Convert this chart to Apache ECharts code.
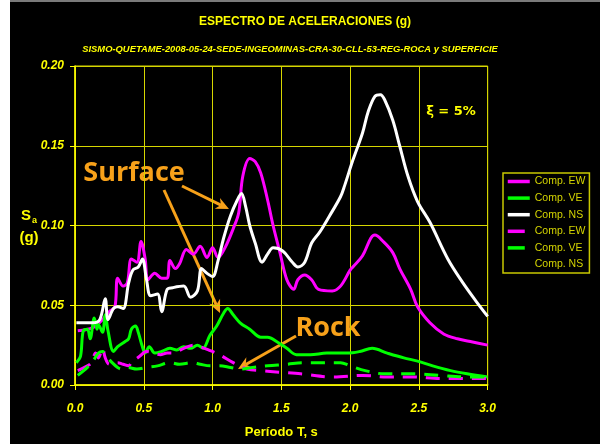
<!DOCTYPE html>
<html><head><meta charset="utf-8">
<script src="https://cdn.jsdelivr.net/npm/echarts@6/dist/echarts.min.js"></script>
<style>html,body{margin:0;padding:0;background:#fff}#c{width:600px;height:444px}</style>
</head><body><div id="c"></div>
<script>
// ---- data (period T in s, spectral acceleration Sa in g) ----
const seriesNames = ['Comp. EW', 'Comp. VE', 'Comp. NS', 'Comp. EW ', 'Comp. VE ', 'Comp. NS '];
const xTickLabels = ['0.0','0.5','1.0','1.5','2.0','2.5','3.0'];
const yTickLabels = ['0.00','0.05','0.10','0.15','0.20'];

// Surface EW
const ewSurfT = [0.02,0.13,0.20,0.25,0.29,0.31,0.35,0.38,0.41,0.45,0.48,0.51,0.53,0.58,0.63,0.67,0.69,0.73,0.76,0.81,0.86,0.91,0.96,1.00,1.04,1.09,1.15,1.19,1.22,1.27,1.31,1.35,1.40,1.44,1.49,1.54,1.59,1.62,1.67,1.72,1.77,1.87,1.93,2.00,2.02,2.09,2.15,2.18,2.24,2.31,2.36,2.44,2.49,2.58,2.68,2.78,2.89,3.00];
const ewSurfV = [0.034,0.036,0.041,0.046,0.049,0.067,0.062,0.064,0.079,0.077,0.090,0.079,0.066,0.070,0.067,0.067,0.078,0.073,0.076,0.085,0.082,0.087,0.080,0.086,0.080,0.086,0.098,0.108,0.131,0.142,0.140,0.133,0.116,0.100,0.083,0.066,0.060,0.066,0.069,0.066,0.060,0.059,0.062,0.072,0.074,0.081,0.092,0.094,0.090,0.083,0.073,0.060,0.049,0.039,0.032,0.029,0.027,0.025];

// Surface VE
const veSurfT = [0.01,0.04,0.06,0.09,0.11,0.14,0.16,0.17,0.20,0.22,0.24,0.28,0.31,0.36,0.39,0.41,0.44,0.46,0.49,0.51,0.54,0.58,0.63,0.69,0.74,0.79,0.84,0.89,0.93,0.98,1.03,1.08,1.11,1.15,1.20,1.27,1.35,1.40,1.47,1.54,1.61,1.71,1.83,1.93,1.98,2.07,2.16,2.27,2.39,2.49,2.60,2.73,2.85,3.00];
const veSurfV = [0.014,0.018,0.034,0.035,0.029,0.042,0.035,0.038,0.033,0.044,0.034,0.021,0.024,0.027,0.029,0.035,0.037,0.033,0.024,0.020,0.024,0.020,0.021,0.023,0.022,0.024,0.023,0.025,0.023,0.031,0.037,0.045,0.048,0.044,0.039,0.035,0.030,0.030,0.027,0.023,0.019,0.019,0.020,0.020,0.020,0.021,0.023,0.020,0.017,0.015,0.012,0.009,0.007,0.005];

// Surface NS
const nsSurfT = [0.01,0.13,0.18,0.22,0.24,0.28,0.31,0.35,0.39,0.42,0.46,0.49,0.52,0.55,0.60,0.63,0.67,0.71,0.79,0.84,0.89,0.92,0.96,1.00,1.04,1.08,1.13,1.18,1.21,1.24,1.27,1.31,1.36,1.40,1.44,1.51,1.58,1.62,1.67,1.72,1.78,1.85,1.93,1.96,2.02,2.09,2.13,2.18,2.22,2.25,2.31,2.36,2.42,2.49,2.58,2.71,2.82,2.92,3.00];
const nsSurfV = [0.039,0.039,0.041,0.054,0.041,0.048,0.049,0.048,0.064,0.072,0.074,0.079,0.066,0.056,0.057,0.046,0.060,0.061,0.062,0.055,0.059,0.073,0.070,0.068,0.078,0.092,0.106,0.116,0.120,0.112,0.100,0.089,0.077,0.082,0.086,0.084,0.077,0.074,0.077,0.089,0.096,0.106,0.118,0.125,0.141,0.158,0.171,0.181,0.182,0.179,0.166,0.150,0.131,0.115,0.102,0.079,0.064,0.052,0.043];

// Rock EW
const ewRockT = [0.02,0.09,0.12,0.15,0.17,0.20,0.22,0.25,0.31,0.35,0.39,0.41,0.47,0.52,0.57,0.62,0.67,0.71,0.79,0.86,0.91,0.97,1.05,1.15,1.25,1.35,1.49,1.64,1.88,2.09,2.27,2.46,2.65,3.00];
const ewRockV = [0.009,0.012,0.014,0.020,0.017,0.023,0.017,0.013,0.014,0.013,0.012,0.014,0.018,0.021,0.020,0.019,0.020,0.020,0.023,0.025,0.024,0.022,0.019,0.014,0.010,0.009,0.008,0.007,0.005,0.006,0.005,0.005,0.004,0.004];

// Rock VE
const veRockT = [0.02,0.09,0.13,0.17,0.20,0.23,0.27,0.31,0.34,0.38,0.45,0.52,0.60,0.69,0.76,0.85,0.91,0.98,1.05,1.13,1.20,1.29,1.40,1.54,1.66,1.78,1.93,2.00,2.11,2.25,2.47,2.65,2.86,3.00];
const veRockV = [0.006,0.011,0.015,0.020,0.021,0.018,0.014,0.011,0.010,0.011,0.010,0.011,0.012,0.014,0.013,0.014,0.013,0.012,0.012,0.011,0.010,0.011,0.012,0.013,0.014,0.014,0.014,0.012,0.009,0.007,0.007,0.006,0.005,0.005];

// Rock NS (not visible in the reference)
const nsRockT = [];
const nsRockV = [];

const zip = (t, v) => t.map((x, i) => [x, v[i]]);

const YEL = '#ffff00';
const GRIDC = '#d6d600';
const ORANGE = '#f7a11a';

function arrow(x1, y1, x2, y2) {
  const a = Math.atan2(y2 - y1, x2 - x1), c = Math.cos(a), s = Math.sin(a);
  const L = 13, W = 6, N = 9;
  const bx = x2 - L * c, by = y2 - L * s;
  const nx = x2 - N * c, ny = y2 - N * s;
  return [
    {type: 'line', silent: true, shape: {x1, y1, x2: nx, y2: ny}, style: {stroke: ORANGE, lineWidth: 3}},
    {type: 'polygon', silent: true, shape: {points: [[x2, y2], [bx - W * s, by + W * c], [nx, ny], [bx + W * s, by - W * c]]}, style: {fill: ORANGE}}
  ];
}

const chart = echarts.init(document.getElementById('c'), null, {renderer: 'canvas'});

const mk = (name, t, v, color, dashed) => ({
  name, type: 'line', data: zip(t, v), showSymbol: false, symbol: 'none', smooth: 0.35,
  lineStyle: {color, width: 3, type: dashed ? [14, 9] : 'solid'},
  itemStyle: {color}
});

const legendData = seriesNames.map((n, i) => i < 3 ? {name: n} : {name: n, lineStyle: {type: [17, 30]}});

const option = {
  animation: false,
  backgroundColor: '#000',
  grid: {left: 75, right: 112.3, top: 66, bottom: 58, show: true, borderColor: GRIDC, borderWidth: 1},
  xAxis: {
    type: 'value', min: 0, max: 3, interval: 0.5,
    axisLine: {lineStyle: {color: YEL, width: 1.5}},
    axisTick: {show: true, length: 5, lineStyle: {color: YEL}},
    splitLine: {show: true, lineStyle: {color: GRIDC, width: 1}},
    axisLabel: {color: YEL, fontStyle: 'italic', fontWeight: 'bold', fontSize: 12, fontFamily: 'Liberation Sans', margin: 18,
      formatter: (v) => xTickLabels[Math.round(v / 0.5)]},
    name: 'Período T, s', nameLocation: 'middle', nameGap: 41,
    nameTextStyle: {color: YEL, fontWeight: 'bold', fontSize: 13, fontFamily: 'Liberation Sans'}
  },
  yAxis: {
    type: 'value', min: 0, max: 0.2, interval: 0.05,
    axisLine: {show: true, lineStyle: {color: YEL, width: 1.5}},
    axisTick: {show: true, length: 5, lineStyle: {color: YEL}},
    splitLine: {show: true, lineStyle: {color: GRIDC, width: 1}},
    axisLabel: {color: YEL, fontStyle: 'italic', fontWeight: 'bold', fontSize: 12, fontFamily: 'Liberation Sans', margin: 11,
      formatter: (v) => yTickLabels[Math.round(v / 0.05)]}
  },
  legend: {
    orient: 'vertical', left: 503, top: 173, selectedMode: false,
    itemWidth: 22, itemHeight: 11, itemGap: 5.6, padding: [3, 1, 3, 3],
    borderColor: '#c8c800', borderWidth: 1.5,
    itemStyle: {opacity: 0},
    lineStyle: {width: 3.5},
    textStyle: {color: '#d4d400', fontSize: 10.5, fontFamily: 'Liberation Sans'},
    data: legendData
  },
  series: [
    mk(seriesNames[0], ewSurfT, ewSurfV, '#ff00ff', false),
    mk(seriesNames[1], veSurfT, veSurfV, '#00ff00', false),
    mk(seriesNames[2], nsSurfT, nsSurfV, '#ffffff', false),
    mk(seriesNames[3], ewRockT, ewRockV, '#ff00ff', true),
    mk(seriesNames[4], veRockT, veRockV, '#00ff00', true),
    mk(seriesNames[5], nsRockT, nsRockV, '#000000', true)
  ],
  graphic: [
    {type: 'rect', silent: true, shape: {x: 0, y: 0, width: 10, height: 444}, style: {fill: '#fff'}},
    {type: 'rect', silent: true, shape: {x: 10, y: 0, width: 590, height: 2}, style: {fill: '#7a7a7a'}},
    {type: 'text', silent: true, style: {x: 305, y: 22, text: 'ESPECTRO DE ACELERACIONES (g)', align: 'center', verticalAlign: 'middle',
      fill: YEL, font: 'bold 12px "Liberation Sans"'}},
    {type: 'text', silent: true, style: {x: 290, y: 49, text: 'SISMO-QUETAME-2008-05-24-SEDE-INGEOMINAS-CRA-30-CLL-53-REG-ROCA y SUPERFICIE', align: 'center', verticalAlign: 'middle',
      fill: YEL, font: 'italic bold 9.4px "Liberation Sans"'}},
    {type: 'text', silent: true, style: {x: 31, y: 216, text: 'S', align: 'right', verticalAlign: 'middle', fill: YEL, font: 'bold 15px "Liberation Sans"'}},
    {type: 'text', silent: true, style: {x: 32, y: 221, text: 'a', align: 'left', verticalAlign: 'middle', fill: YEL, font: 'bold 9px "Liberation Sans"'}},
    {type: 'text', silent: true, style: {x: 29, y: 238, text: '(g)', align: 'center', verticalAlign: 'middle', fill: YEL, font: 'bold 15px "Liberation Sans"'}},
    {type: 'text', silent: true, style: {x: 451, y: 112, text: 'ξ = 5%', align: 'center', verticalAlign: 'middle', fill: YEL, font: 'bold 13px "DejaVu Sans"'}},
    {type: 'text', silent: true, style: {x: 134, y: 173, text: 'Surface', align: 'center', verticalAlign: 'middle', fill: ORANGE,
      font: 'bold 27px "Open Sans"', textShadowColor: '#5a3800', textShadowOffsetX: 1, textShadowOffsetY: 1}},
    {type: 'text', silent: true, style: {x: 328, y: 328, text: 'Rock', align: 'center', verticalAlign: 'middle', fill: ORANGE,
      font: 'bold 27px "Open Sans"', textShadowColor: '#5a3800', textShadowOffsetX: 1, textShadowOffsetY: 1}},
    ...arrow(182, 186, 229, 209),
    ...arrow(164, 190, 220, 313),
    ...arrow(296, 336, 238, 369)
  ]
};
chart.setOption(option);
</script>
</body></html>
